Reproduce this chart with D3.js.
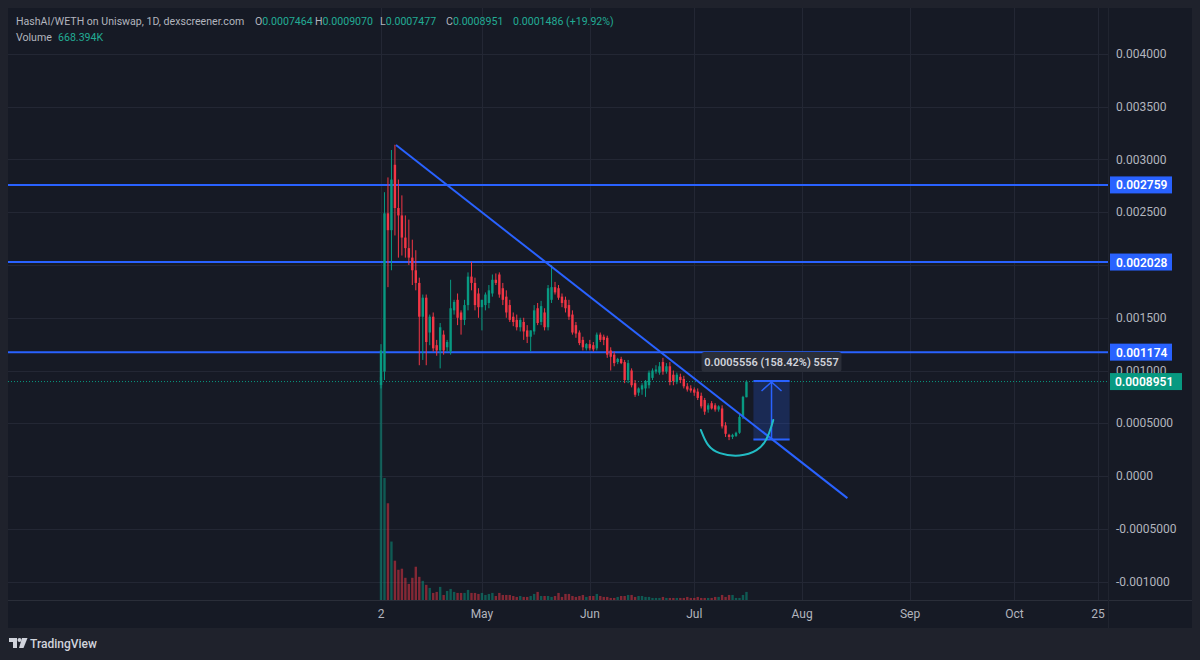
<!DOCTYPE html>
<html>
<head>
<meta charset="utf-8">
<script src="https://cdn.jsdelivr.net/npm/d3@7.9.0/dist/d3.min.js"></script>
<style>
  html, body { margin: 0; padding: 0; background: #1f222c; }
  svg { display: block; font-family: Roboto, "Noto Sans", sans-serif; }
</style>
</head>
<body>
<svg id="chart" width="1200" height="660"></svg>
<script>
// daily candles, HashAI/WETH, starting 2 Apr 2024
const startDay = new Date(Date.UTC(2024, 3, 2));

const opens = [
  0.000863, 0.00099, 0.00249, 0.00233, 0.00295, 0.00254, 0.00247, 0.00226, 0.00216, 0.00207,
  0.00195, 0.00183, 0.00151, 0.00169, 0.00136, 0.00151, 0.00124, 0.00119, 0.00134, 0.00122,
  0.00118, 0.00157, 0.00167, 0.00155, 0.00148, 0.00162, 0.00189, 0.00183, 0.00173, 0.00160,
  0.00162, 0.00164, 0.00173, 0.00186, 0.00191, 0.00178, 0.00170, 0.00162, 0.00151, 0.00148,
  0.00141, 0.00146, 0.00138, 0.00132, 0.00137, 0.00159, 0.00146, 0.00155, 0.00141, 0.00167,
  0.00179, 0.00178, 0.00170, 0.00167, 0.00162, 0.00153, 0.00143, 0.00136, 0.00129, 0.00121,
  0.00125, 0.00124, 0.00121, 0.00134, 0.00132, 0.00131, 0.00119, 0.00115, 0.00108, 0.00111,
  0.00108, 0.00091, 0.00100, 0.00088, 0.00079, 0.00082, 0.00083, 0.00086, 0.00093, 0.00099,
  0.00098, 0.00108, 0.00099, 0.00104, 0.00096, 0.00089, 0.00094, 0.00092, 0.00085, 0.00083,
  0.00082, 0.00080, 0.00076, 0.00072, 0.00063, 0.00069, 0.00067, 0.00063, 0.00064, 0.00048,
  0.00039, 0.00037, 0.00038, 0.00041, 0.00056, 0.0007464
];
const highs = [
  0.00125, 0.00269, 0.00283, 0.00309, 0.00314, 0.00281, 0.00266, 0.00247, 0.00243, 0.00224,
  0.00214, 0.00188, 0.00172, 0.00172, 0.00153, 0.00155, 0.00129, 0.00145, 0.00138, 0.00129,
  0.00186, 0.00167, 0.00173, 0.00157, 0.00167, 0.00193, 0.00203, 0.00188, 0.00178, 0.00167,
  0.00174, 0.00181, 0.00191, 0.00192, 0.00193, 0.00183, 0.00176, 0.00167, 0.00155, 0.00153,
  0.00150, 0.00150, 0.00143, 0.00138, 0.00162, 0.00164, 0.00166, 0.00159, 0.00181, 0.00200,
  0.00184, 0.00181, 0.00173, 0.00170, 0.00167, 0.00157, 0.00146, 0.00138, 0.00132, 0.00126,
  0.00129, 0.00127, 0.00136, 0.00136, 0.00134, 0.00133, 0.00122, 0.00118, 0.00112, 0.00113,
  0.00110, 0.00110, 0.00102, 0.00091, 0.00084, 0.00088, 0.00091, 0.00100, 0.00102, 0.00105,
  0.00108, 0.00112, 0.00107, 0.00108, 0.00100, 0.00098, 0.00097, 0.00095, 0.00088, 0.00086,
  0.00084, 0.00083, 0.00079, 0.00074, 0.00069, 0.00071, 0.00069, 0.00067, 0.00067, 0.00051,
  0.00040, 0.00040, 0.00042, 0.00058, 0.00076, 0.000907
];
const lows = [
  0.00083, 0.00091, 0.00179, 0.00195, 0.00228, 0.00207, 0.00209, 0.00207, 0.00200, 0.00181,
  0.00176, 0.00105, 0.00110, 0.00105, 0.00124, 0.00118, 0.00114, 0.00102, 0.00115, 0.00118,
  0.00115, 0.00153, 0.00143, 0.00134, 0.00143, 0.00157, 0.00176, 0.00157, 0.00150, 0.00138,
  0.00157, 0.00159, 0.00170, 0.00181, 0.00169, 0.00162, 0.00150, 0.00146, 0.00142, 0.00138,
  0.00137, 0.00129, 0.00126, 0.00118, 0.00134, 0.00143, 0.00143, 0.00138, 0.00138, 0.00164,
  0.00172, 0.00167, 0.00160, 0.00155, 0.00148, 0.00134, 0.00131, 0.00124, 0.00119, 0.00119,
  0.00119, 0.00118, 0.00119, 0.00127, 0.00124, 0.00112, 0.00100, 0.00104, 0.00106, 0.00106,
  0.00088, 0.00088, 0.00084, 0.00075, 0.00076, 0.00077, 0.00075, 0.00083, 0.00091, 0.00097,
  0.00096, 0.00096, 0.00097, 0.00086, 0.00086, 0.00087, 0.00088, 0.00083, 0.00080, 0.00079,
  0.00076, 0.00072, 0.00064, 0.00058, 0.00060, 0.00063, 0.00061, 0.00061, 0.00045, 0.00037,
  0.00034, 0.00035, 0.00037, 0.00040, 0.00054, 0.0007464
];
const closes = [
  0.00119, 0.00249, 0.00233, 0.00281, 0.00254, 0.00247, 0.00226, 0.00216, 0.00207, 0.00195,
  0.00183, 0.00151, 0.00169, 0.00127, 0.00151, 0.00121, 0.00119, 0.00141, 0.00119, 0.00127,
  0.00159, 0.00165, 0.00150, 0.00148, 0.00162, 0.00189, 0.00183, 0.00162, 0.00160, 0.00167,
  0.00172, 0.00176, 0.00186, 0.00183, 0.00172, 0.00167, 0.00155, 0.00148, 0.00146, 0.00141,
  0.00148, 0.00137, 0.00132, 0.00138, 0.00157, 0.00145, 0.00161, 0.00141, 0.00178, 0.00179,
  0.00174, 0.00169, 0.00164, 0.00159, 0.00151, 0.00136, 0.00135, 0.00126, 0.00122, 0.00125,
  0.00121, 0.00120, 0.00134, 0.00129, 0.00129, 0.00115, 0.00113, 0.00107, 0.00111, 0.00107,
  0.00091, 0.00107, 0.00086, 0.00077, 0.00083, 0.00086, 0.00090, 0.00098, 0.00100, 0.00101,
  0.00104, 0.00099, 0.00104, 0.00089, 0.00090, 0.00096, 0.00091, 0.00085, 0.00082, 0.00081,
  0.00079, 0.00074, 0.00066, 0.00061, 0.00067, 0.00064, 0.00063, 0.00066, 0.00047, 0.00040,
  0.00037, 0.00039, 0.00041, 0.00056, 0.00075, 0.0008951
];
// volume in thousands
const volumes = [
  16500, 9060, 7200, 4380, 2970, 2300, 2380, 1710, 1260, 1710,
  2525, 1780, 1485, 1190, 965, 595, 670, 1040, 445, 740,
  890, 670, 595, 595, 595, 815, 595, 595, 520, 595,
  445, 520, 595, 370, 595, 445, 445, 445, 370, 300,
  370, 300, 300, 370, 520, 670, 370, 370, 370, 300,
  370, 595, 300, 520, 520, 370, 300, 370, 445, 300,
  370, 370, 520, 370, 300, 300, 225, 225, 300, 370,
  370, 445, 445, 300, 370, 370, 300, 300, 225, 225,
  225, 300, 225, 225, 225, 225, 225, 225, 300, 225,
  225, 300, 225, 225, 225, 225, 300, 300, 445, 300,
  445, 445, 225, 225, 445, 668.394
];

const priceTicks = [0.004, 0.0035, 0.003, 0.0025, 0.002, 0.0015, 0.001, 0.0005, 0, -0.0005, -0.001];
const priceTickLabels = ["0.004000", "0.003500", "0.003000", "0.002500", "", "0.001500", "0.001000",
  "0.0005000", "0.0000", "-0.0005000", "-0.001000"];
const timeTicks = ["2024-04-02", "2024-05-01", "2024-06-01", "2024-07-01", "2024-08-01", "2024-09-01", "2024-10-01", "2024-10-25"];
const timeTickLabels = ["2", "May", "Jun", "Jul", "Aug", "Sep", "Oct", "25"];

// legend values
const legendLabels = ["O", "H", "L", "C"];
const legendValues = ["0.0007464", "0.0009070", "0.0007477", "0.0008951"];
const legendChange = "0.0001486 (+19.92%)";
const legendVolume = "668.394K";

// drawings
const levels = [0.002759, 0.002028, 0.001174];
const lastPrice = 0.0008951;
const trendDays = [4.3, 134];
const trendPrices = [0.003137, -0.00021];
const measureDays = [107, 117.4];
const measurePrices = [0.000345, 0.0009006];
const measureText = "0.0005556 (158.42%) 5557";
const curveDays = [91.9, 93.7, 96.8, 103.2, 108.3, 110.9, 112.4, 112.7];
const curvePrices = [0.000436, 0.000284, 0.000209, 0.00018, 0.000237, 0.000341, 0.000493, 0.00053];

const UP = "#089981", DOWN = "#f23645", BLUE = "#2962ff";

const dayDate = d => new Date(startDay.getTime() + d * 864e5);
const candles = closes.map((c, i) => ({
  date: dayDate(i), o: opens[i], h: highs[i], l: lows[i], c: c, v: volumes[i]
}));

const svg = d3.select("#chart");
const x = d3.scaleUtc()
  .domain([new Date(Date.UTC(2024, 3, 2)), new Date(Date.UTC(2024, 9, 25))])
  .range([381, 1098]);
const y = d3.scaleLinear().domain([-0.001, 0.004]).range([581.5, 54]);
const yVol = d3.scaleLinear().domain([0, d3.max(volumes)]).range([601, 377]);

// frame
svg.append("rect").attr("x", 8).attr("y", 8).attr("width", 1184).attr("height", 620).attr("fill", "#161a25");

const plot = svg.append("g");
plot.append("clipPath").attr("id", "pane")
  .append("rect").attr("x", 8).attr("y", 8).attr("width", 1100).attr("height", 592);

// grid
plot.selectAll(".hg").data(priceTicks).join("line")
  .attr("x1", 8).attr("x2", 1108)
  .attr("y1", d => Math.round(y(d)) + 0.5).attr("y2", d => Math.round(y(d)) + 0.5)
  .attr("stroke", "#232734").attr("stroke-width", 1);
plot.selectAll(".vg").data(timeTicks).join("line")
  .attr("y1", 8).attr("y2", 600)
  .attr("x1", d => Math.round(x(new Date(d + "T00:00:00Z"))) + 0.5)
  .attr("x2", d => Math.round(x(new Date(d + "T00:00:00Z"))) + 0.5)
  .attr("stroke", "#232734").attr("stroke-width", 1);

// axis separators
svg.append("line").attr("x1", 8).attr("x2", 1192).attr("y1", 600.5).attr("y2", 600.5).attr("stroke", "#2a2e39");
svg.append("line").attr("x1", 1108.5).attr("x2", 1108.5).attr("y1", 8).attr("y2", 628).attr("stroke", "#20242f");

const pane = plot.append("g").attr("clip-path", "url(#pane)");

// volume
const bw = 2.4;
pane.selectAll(".vol").data(candles).join("rect")
  .attr("x", d => x(d.date) - bw / 2)
  .attr("width", bw)
  .attr("y", d => yVol(d.v))
  .attr("height", d => 601 - yVol(d.v))
  .attr("fill", d => d.c >= d.o ? UP : DOWN)
  .attr("opacity", 0.5);

// horizontal levels
pane.selectAll(".lvl").data(levels).join("line")
  .attr("x1", 8).attr("x2", 1108)
  .attr("y1", d => y(d)).attr("y2", d => y(d))
  .attr("stroke", BLUE).attr("stroke-width", 2);

// last price dotted line
pane.append("line")
  .attr("x1", 8).attr("x2", 1108)
  .attr("y1", y(lastPrice)).attr("y2", y(lastPrice))
  .attr("stroke", UP).attr("stroke-width", 1).attr("stroke-dasharray", "1,2");

// candles
const cg = pane.selectAll(".cdl").data(candles).join("g");
cg.append("line")
  .attr("x1", d => x(d.date)).attr("x2", d => x(d.date))
  .attr("y1", d => y(d.h)).attr("y2", d => y(d.l))
  .attr("stroke", d => d.c >= d.o ? UP : DOWN).attr("stroke-width", 1);
cg.append("rect")
  .attr("x", d => x(d.date) - bw / 2)
  .attr("width", bw)
  .attr("y", d => y(Math.max(d.o, d.c)))
  .attr("height", d => Math.max(1, Math.abs(y(d.o) - y(d.c))))
  .attr("fill", d => d.c >= d.o ? UP : DOWN);

// trend line
pane.append("line")
  .attr("x1", x(dayDate(trendDays[0]))).attr("y1", y(trendPrices[0]))
  .attr("x2", x(dayDate(trendDays[1]))).attr("y2", y(trendPrices[1]))
  .attr("stroke", BLUE).attr("stroke-width", 2);

// measure box
const mx0 = x(dayDate(measureDays[0])), mx1 = x(dayDate(measureDays[1]));
const my0 = y(measurePrices[0]), my1 = y(measurePrices[1]);
const mxm = (mx0 + mx1) / 2;
pane.append("rect").attr("x", mx0).attr("y", my1).attr("width", mx1 - mx0).attr("height", my0 - my1)
  .attr("fill", BLUE).attr("fill-opacity", 0.22);
pane.append("line").attr("x1", mx0).attr("x2", mx1).attr("y1", my1).attr("y2", my1).attr("stroke", BLUE).attr("stroke-width", 2);
pane.append("line").attr("x1", mx0).attr("x2", mx1).attr("y1", my0).attr("y2", my0).attr("stroke", BLUE).attr("stroke-width", 2);
pane.append("line").attr("x1", mxm).attr("x2", mxm).attr("y1", my0).attr("y2", my1 + 1).attr("stroke", BLUE).attr("stroke-width", 1.5);
pane.append("path").attr("d", `M${mxm - 10},${my1 + 10}L${mxm},${my1 + 1}L${mxm + 10},${my1 + 10}`)
  .attr("fill", "none").attr("stroke", BLUE).attr("stroke-width", 1.5);

// hand-drawn curve
const curve = d3.line().x(d => x(dayDate(d[0]))).y(d => y(d[1])).curve(d3.curveBasis);
pane.append("path").attr("d", curve(d3.zip(curveDays, curvePrices)))
  .attr("fill", "none").attr("stroke", "#22bcc4").attr("stroke-width", 2).attr("stroke-linecap", "round");

// measure tooltip
pane.append("rect").attr("x", mxm - 70).attr("y", my1 - 29).attr("width", 140).attr("height", 20).attr("rx", 3)
  .attr("fill", "#2a2e39");
pane.append("text").attr("x", mxm).attr("y", my1 - 15).attr("text-anchor", "middle")
  .attr("fill", "#d1d4dc").attr("font-size", 11).attr("font-weight", 600).text(measureText);

// price axis
svg.selectAll(".pt").data(priceTicks).join("text")
  .attr("x", 1116).attr("y", d => y(d) + 4)
  .attr("fill", "#b2b5be").attr("font-size", 12)
  .text((d, i) => priceTickLabels[i]);

const tags = svg.selectAll(".tag").data(levels).join("g").attr("transform", d => `translate(1110,${y(d)})`);
tags.append("rect").attr("x", 0).attr("y", -8.5).attr("width", 62).attr("height", 17).attr("fill", BLUE);
tags.append("text").attr("x", 6).attr("y", 4.5).attr("fill", "#ffffff").attr("font-size", 12).attr("font-weight", 600)
  .text(d => d.toFixed(6));
const lastTag = svg.append("g").attr("transform", `translate(1110,${y(lastPrice)})`);
lastTag.append("rect").attr("y", -8.5).attr("width", 72).attr("height", 17).attr("fill", UP);
lastTag.append("text").attr("x", 5).attr("y", 4.5).attr("fill", "#ffffff").attr("font-size", 12).attr("font-weight", 600)
  .text(lastPrice.toFixed(7));

// time axis
svg.selectAll(".tt").data(timeTicks).join("text")
  .attr("x", d => x(new Date(d + "T00:00:00Z"))).attr("y", 618)
  .attr("text-anchor", "middle").attr("fill", "#b2b5be").attr("font-size", 12)
  .text((d, i) => timeTickLabels[i]);

// legend
const lg = svg.append("text").attr("x", 16).attr("y", 25).attr("font-size", 10.6).attr("fill", "#b2b5be");
lg.append("tspan").text("HashAI/WETH on Uniswap, 1D, dexscreener.com");
const legendX = [255, 315, 380, 446];
legendLabels.forEach((k, i) => {
  lg.append("tspan").attr("x", legendX[i]).text(k);
  lg.append("tspan").attr("fill", "#22ab94").text(legendValues[i]);
});
lg.append("tspan").attr("x", 513).attr("fill", "#22ab94").text(legendChange);
const vl = svg.append("text").attr("x", 16).attr("y", 41).attr("font-size", 10.6).attr("fill", "#b2b5be");
vl.append("tspan").text("Volume");
vl.append("tspan").attr("x", 58).attr("fill", "#22ab94").text(legendVolume);

// footer logo
const logo = svg.append("g").attr("fill", "#d1d4dc");
logo.append("path").attr("d", "M9,638H17V648H13V642H9Z");
logo.append("circle").attr("cx", 19.5).attr("cy", 640).attr("r", 2);
logo.append("path").attr("d", "M22,638H27.5L23.5,648H19Z");
svg.append("text").attr("x", 30).attr("y", 647.5).attr("font-size", 12).attr("font-weight", 500)
  .attr("fill", "#d1d4dc").text("TradingView");
</script>
</body>
</html>
